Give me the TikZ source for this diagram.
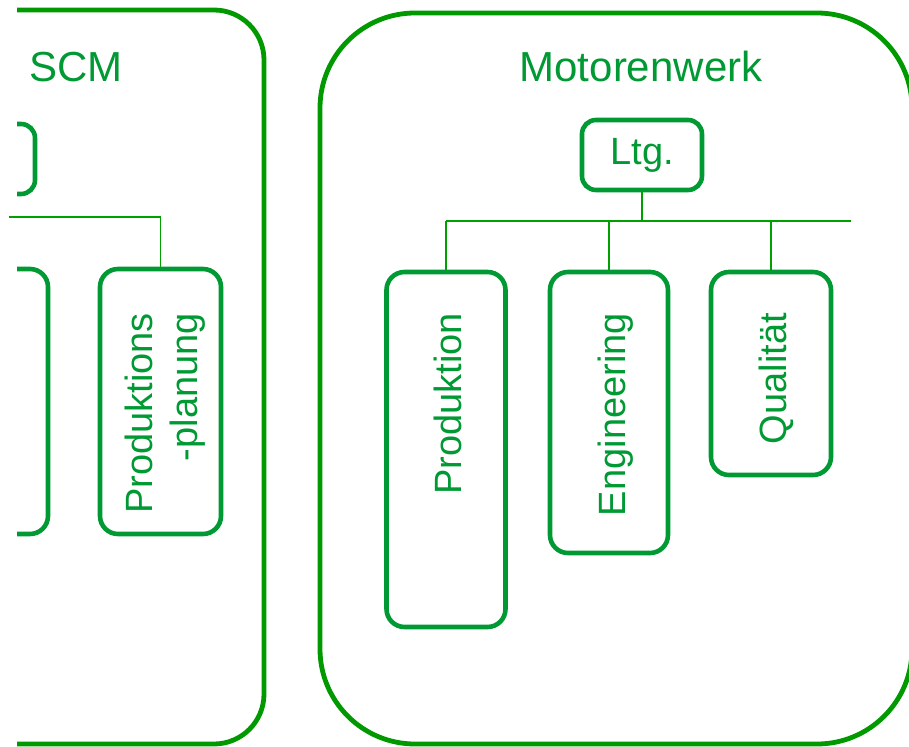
\documentclass[tikz,border=0pt]{standalone}
\usepackage{fontspec}
\setmainfont{Liberation Sans}
\definecolor{framegreen}{RGB}{0,153,0}
\definecolor{boxgreen}{RGB}{0,153,51}
\definecolor{linegreen}{RGB}{0,160,0}
\begin{document}
\begin{tikzpicture}[x=1pt,y=-1pt,
  frame/.style={draw=framegreen,line width=4.8pt,inner sep=0pt},
  unit/.style={draw=boxgreen,line width=4.6pt,rounded corners=18pt,inner sep=0pt},
  lbl/.style={text=boxgreen,font=\fontsize{38}{45}\selectfont,inner sep=0pt,rotate=90,anchor=base east},
  title/.style={text=boxgreen,font=\fontsize{42}{50}\selectfont,inner sep=0pt},
  wire/.style={draw=linegreen,line width=1.5pt}]
\useasboundingbox (0,0) rectangle (909,746);

% SCM area (cut at left edge)
\begin{scope}
\clip (17,0) rectangle (909,746);
\node[frame,rounded corners=50pt,minimum width=564pt,minimum height=734pt] (scm) at (-18,377) {};
\node[unit,rounded corners=14pt,minimum width=120pt,minimum height=70pt] (scmltg) at (-25,159) {};
\node[unit,minimum width=120pt,minimum height=265pt] (scmleft) at (-12,401.5) {};
\end{scope}
\node[unit,minimum width=121pt,minimum height=265pt] (pp) at (160.5,401.5) {};
\node[title,anchor=base west] (scmtitle) at (29,82) {SCM};
\node[lbl] (tpp1) at (152,313) {Produktions};
\node[lbl] (tpp2) at (197,313) {-planung};
\coordinate (scmbus) at (9,217);
\draw[wire] (scmbus) -| (pp.north);

% Motorenwerk
\node[frame,rounded corners=95pt,minimum width=592pt,minimum height=731pt] (mw) at (616,378.5) {};
\node[title,anchor=base] (mwtitle) at (641,82) {Motorenwerk};
\node[unit,rounded corners=14pt,minimum width=120pt,minimum height=70pt,
      text=boxgreen,font=\fontsize{38}{45}\selectfont] (ltg) at (642,155) {Ltg.};
\node[unit,minimum width=119pt,minimum height=355pt] (prod) at (446,449.5) {};
\node[unit,minimum width=118pt,minimum height=281pt] (eng) at (609,412.5) {};
\node[unit,minimum width=120pt,minimum height=203pt] (qual) at (771,373.5) {};
\node[lbl] (tprod) at (461,313) {Produktion};
\node[lbl] (teng) at (625,313) {Engineering};
\node[lbl] (tqual) at (786,313) {Qualität};

\coordinate (bus) at (642,221);
\coordinate (busend) at (851,221);
\draw[wire] (ltg.south) -- (bus);
\draw[wire] (prod.north |- bus) -- (busend);
\draw[wire] (prod.north) -- (prod.north |- bus);
\draw[wire] (eng.north) -- (eng.north |- bus);
\draw[wire] (qual.north) -- (qual.north |- bus);
\end{tikzpicture}
\end{document}
